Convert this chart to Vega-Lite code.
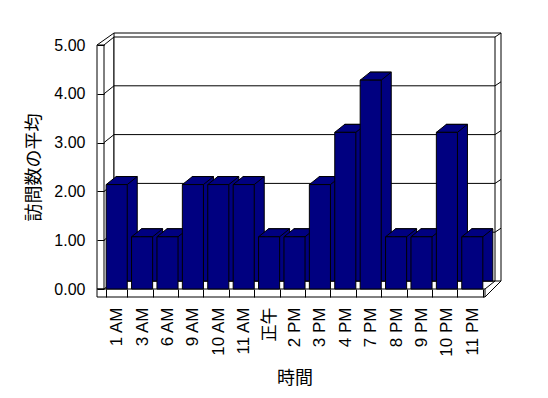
{
  "$schema": "https://vega.github.io/schema/vega-lite/v6.json",
  "width": 381,
  "height": 244,
  "autosize": {"type": "none"},
  "padding": {"left": 104, "top": 45, "right": 63, "bottom": 109},
  "background": "white",
  "config": {"view": {"stroke": null}},
  "resolve": {"scale": {"x": "independent"}},
  "layer": [
    {
      "data": {"values": [{}]},
      "layer": [
        {
          "mark": {"type": "rect", "fill": "white", "stroke": "black", "strokeWidth": 1, "xOffset": 10, "x2Offset": 16, "yOffset": -12, "y2Offset": -8},
          "encoding": {
            "x": {"datum": 0, "type": "quantitative", "scale": {"domain": [0, 15], "nice": false, "zero": false}, "axis": null},
            "x2": {"datum": 15},
            "y": {"datum": 5, "type": "quantitative", "scale": {"domain": [0, 5], "nice": false}},
            "y2": {"datum": 0}
          }
        },
        {
          "mark": {"type": "rect", "fill": "white", "stroke": "black", "strokeWidth": 1, "xOffset": 10, "x2Offset": 10, "yOffset": -8, "y2Offset": -8},
          "encoding": {
            "x": {"datum": 0, "type": "quantitative", "axis": null},
            "x2": {"datum": 15},
            "y": {"datum": 5, "type": "quantitative"},
            "y2": {"datum": 0}
          }
        },
        {
          "data": {"values": [{"v": 1}, {"v": 2}, {"v": 3}, {"v": 4}]},
          "mark": {"type": "rule", "color": "black", "strokeWidth": 1, "xOffset": 10, "x2Offset": 10, "yOffset": -8},
          "encoding": {
            "x": {"datum": 0, "type": "quantitative", "axis": null},
            "x2": {"datum": 15},
            "y": {"field": "v", "type": "quantitative"}
          }
        },
        {
          "data": {"values": [{"v": 0}, {"v": 1}, {"v": 2}, {"v": 3}, {"v": 4}, {"v": 5}]},
          "mark": {"type": "rule", "color": "black", "strokeWidth": 1, "x2Offset": 10, "y2Offset": -8},
          "encoding": {
            "x": {"datum": 0, "type": "quantitative", "axis": null},
            "x2": {"datum": 0},
            "y": {"field": "v", "type": "quantitative"},
            "y2": {"field": "v"}
          }
        },
        {
          "data": {"values": [{"v": 1}, {"v": 2}, {"v": 3}, {"v": 4}, {"v": 5}]},
          "mark": {"type": "rule", "color": "black", "strokeWidth": 1, "xOffset": 10, "x2Offset": 16, "yOffset": -8, "y2Offset": -12},
          "encoding": {
            "x": {"datum": 15, "type": "quantitative", "axis": null},
            "x2": {"datum": 15},
            "y": {"field": "v", "type": "quantitative"},
            "y2": {"field": "v"}
          }
        },
        {
          "mark": {"type": "rect", "fill": "white", "stroke": "black", "strokeWidth": 1, "xOffset": -7},
          "encoding": {
            "x": {"datum": 0, "type": "quantitative", "axis": null},
            "x2": {"datum": 0},
            "y": {"datum": 5, "type": "quantitative"},
            "y2": {"datum": 0}
          }
        },
        {
          "mark": {"type": "rule", "color": "black", "strokeWidth": 1, "xOffset": -7, "x2Offset": 10, "y2Offset": -12},
          "encoding": {
            "x": {"datum": 0, "type": "quantitative", "axis": null},
            "x2": {"datum": 0},
            "y": {"datum": 5, "type": "quantitative"},
            "y2": {"datum": 5}
          }
        },
        {
          "mark": {"type": "rect", "fill": "white", "stroke": "black", "strokeWidth": 1, "xOffset": -7, "y2Offset": 8},
          "encoding": {
            "x": {"datum": 0, "type": "quantitative", "axis": null},
            "x2": {"datum": 15},
            "y": {"datum": 0, "type": "quantitative"},
            "y2": {"datum": 0}
          }
        },
        {
          "mark": {"type": "rule", "color": "black", "strokeWidth": 1, "x2Offset": 10, "y2Offset": -8},
          "encoding": {
            "x": {"datum": 15, "type": "quantitative", "axis": null},
            "x2": {"datum": 15},
            "y": {"datum": 0, "type": "quantitative"},
            "y2": {"datum": 0}
          }
        },
        {
          "mark": {"type": "rule", "color": "black", "strokeWidth": 1, "yOffset": 8, "x2Offset": 16, "y2Offset": -8},
          "encoding": {
            "x": {"datum": 15, "type": "quantitative", "axis": null},
            "x2": {"datum": 15},
            "y": {"datum": 0, "type": "quantitative"},
            "y2": {"datum": 0}
          }
        }
      ]
    },
    {
      "data": {"values": [
        {"hour": "1 AM", "avg": 2.14},
        {"hour": "3 AM", "avg": 1.07},
        {"hour": "6 AM", "avg": 1.07},
        {"hour": "9 AM", "avg": 2.14},
        {"hour": "10 AM", "avg": 2.14},
        {"hour": "11 AM", "avg": 2.14},
        {"hour": "正午", "avg": 1.07},
        {"hour": "2 PM", "avg": 1.07},
        {"hour": "3 PM", "avg": 2.14},
        {"hour": "4 PM", "avg": 3.21},
        {"hour": "7 PM", "avg": 4.28},
        {"hour": "8 PM", "avg": 1.07},
        {"hour": "9 PM", "avg": 1.07},
        {"hour": "10 PM", "avg": 3.21},
        {"hour": "11 PM", "avg": 1.07}
      ]},
      "encoding": {
        "x": {
          "field": "hour", "type": "nominal", "sort": null,
          "scale": {"paddingInner": 0.17, "paddingOuter": 0.085},
          "axis": {
            "title": "時間", "labelAngle": -90, "tickBand": "extent", "tickSize": 8, "domain": false,
            "labelPadding": 10, "labelFont": "Liberation Sans, Noto Sans CJK JP", "labelFontSize": 17, "labelColor": "black",
            "tickColor": "black", "titleFont": "Noto Sans CJK JP", "titleFontSize": 18, "titleFontWeight": "normal",
            "titleColor": "black", "titlePadding": 13, "zindex": 1
          }
        },
        "y": {
          "field": "avg", "type": "quantitative",
          "scale": {"domain": [0, 5], "nice": false},
          "axis": {
            "title": "訪問数の平均", "format": ".2f", "values": [0, 1, 2, 3, 4, 5], "tickSize": 7, "domain": false, "grid": false,
            "labelPadding": 12, "labelFont": "Liberation Sans", "labelFontSize": 16, "labelColor": "black", "tickColor": "black",
            "titleFont": "Noto Sans CJK JP", "titleFontSize": 18, "titleFontWeight": "normal", "titleColor": "black",
            "titlePadding": 10, "zindex": 1
          }
        }
      },
      "layer": [
        {"mark": {"type": "bar", "fill": "#000080", "stroke": "black", "strokeWidth": 1, "xOffset": 10, "yOffset": -8, "y2Offset": -8}},
        {"mark": {"type": "point", "shape": "M-1.054,0L1.054,0L2.054,-0.8L-0.054,-0.8Z", "size": 400, "filled": true, "fill": "#000080", "stroke": "black", "strokeWidth": 1, "opacity": 1, "fillOpacity": 1, "strokeOpacity": 1}},
        {"mark": {"type": "bar", "fill": "#000080", "stroke": "black", "strokeWidth": 1}}
      ]
    }
  ]
}
